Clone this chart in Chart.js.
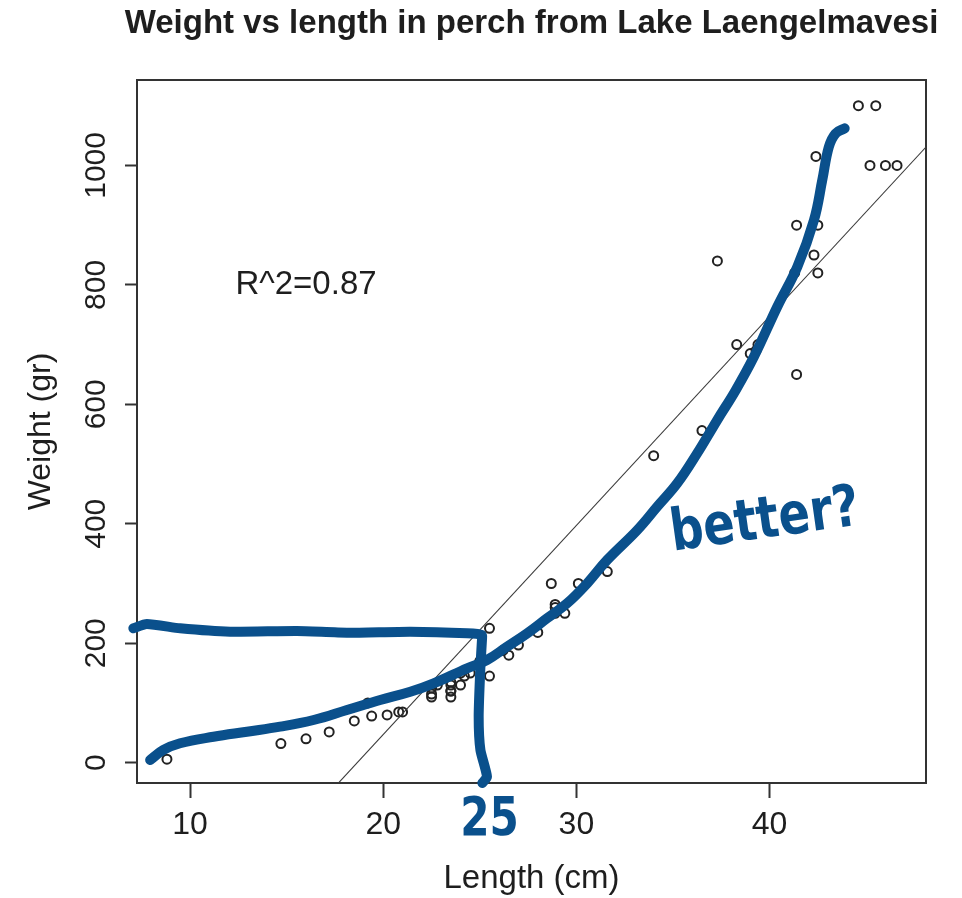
<!DOCTYPE html>
<html>
<head>
<meta charset="utf-8">
<script src="https://cdn.jsdelivr.net/npm/chart.js@4.4.1/dist/chart.umd.min.js"></script>
<style>
html,body{margin:0;padding:0;background:#fff;}
#wrap{width:962px;height:898px;}
</style>
</head>
<body>
<div id="wrap"><canvas id="c" width="962" height="898"></canvas></div>
<script>
// ---- data (perch, Lake Laengelmavesi) ----
const lengthCm = [8.8,14.7,16.0,17.2,18.5,19.2,19.4,20.2,20.8,21.0,22.5,22.5,22.5,22.8,23.5,23.5,23.5,23.5,23.5,24.0,24.0,24.2,24.5,25.0,25.5,25.5,26.2,26.5,27.0,28.0,28.7,28.9,28.9,28.9,29.4,30.1,31.6,34.0,36.5,37.3,39.0,38.3,39.4,39.3,41.4,41.4,41.3,42.3,42.5,42.4,42.5,44.6,45.2,45.5,46.0,46.6];
const weightGr = [5.9,32,40,51.5,70,100,78,80,85,85,110,115,125,130,120,120,130,135,110,130,150,145,150,170,225,145,188,180,197,218,300,260,265,250,250,300,320,514,556,840,685,700,700,690,900,650,820,850,900,1015,820,1100,1000,1100,1000,1000];

const xTicks = [10,20,30,40];
const yTicks = [0,200,400,600,800,1000];

// hand-drawn blue "better?" curve
const curveLength = [7.93,8.62,9.48,11.21,12.94,14.66,16.39,18.12,19.84,21.40,22.61,24.34,25.37,26.41,27.45,28.48,29.52,30.56,31.59,33.15,34.18,35.22,36.25,37.29,38.24,39.19,40.40,41.44,42.30,42.73,43.07,43.42,43.89];
const curveWeight = [4.5,21.3,32.5,43.5,51.9,60.3,71.5,88.2,105,118.8,132.9,158,171.9,194.2,216.6,241.7,266.8,300.3,339.3,389.5,428.5,467.7,517.9,573.7,623.3,679.6,763.3,830.3,908.4,975.4,1031,1053.6,1062];

// hand-drawn blue reading guide (~200 g -> 25 cm)
const guideLength = [7.06,7.76,9.48,12.07,15.53,18.12,21.40,24.34,25.11,25.11,25.03,24.94,25.03,25.37,25.13];
const guideWeight = [225,232.2,225,219.3,220.5,217.6,219.3,216.6,213.8,205.4,160.7,77,21.3,-23.4,-34];

const titleText = 'Weight vs length in perch from Lake Laengelmavesi';
const xTitle = 'Length (cm)';
const yTitle = 'Weight (gr)';
const r2Label = 'R^2=0.87';
const noteBetter = 'better?';
const note25 = '25';

// ---- least-squares line from the data ----
const n = lengthCm.length;
const mx = lengthCm.reduce((a,b)=>a+b,0)/n;
const my = weightGr.reduce((a,b)=>a+b,0)/n;
let sxy = 0, sxx = 0;
for (let i=0;i<n;i++){ sxy += (lengthCm[i]-mx)*(weightGr[i]-my); sxx += (lengthCm[i]-mx)**2; }
const slope = sxy/sxx;
const intercept = my - slope*mx;

const X_MIN = 7.25, X_MAX = 48.1, Y_MIN = -34, Y_MAX = 1143;
const FONT = '"Liberation Sans", Arial, Helvetica, sans-serif';
const INK = '#1e1e1e';
const BLUE = '#0a508c';

function toXY(xs, ys){ return xs.map((x,i)=>({x:x, y:ys[i]})); }

function drawText(ctx, s, x, y, font, color, align, baseline, rot, sx){
  ctx.save();
  ctx.translate(x, y);
  if (rot) ctx.rotate(rot);
  if (sx) ctx.scale(sx, 1);
  ctx.font = font;
  ctx.fillStyle = color;
  ctx.textAlign = align;
  ctx.textBaseline = baseline;
  ctx.fillText(s, 0, 0);
  ctx.restore();
}

const framePlugin = {
  id: 'frame',
  beforeDatasetsDraw(chart){
    const {ctx, chartArea:a} = chart;
    ctx.save();
    ctx.strokeStyle = '#333';
    ctx.lineWidth = 2;
    ctx.strokeRect(a.left, a.top, a.right-a.left, a.bottom-a.top);
    ctx.restore();
  },
  afterDraw(chart){
    const {ctx, chartArea:a, scales} = chart;
    const xs = scales.x, ys = scales.y;
    const cx = (a.left + a.right)/2;
    const cy = (a.top + a.bottom)/2;
    // title
    drawText(ctx, titleText, cx, 33, 'bold 33px '+FONT, INK, 'center', 'alphabetic');
    // axis titles
    drawText(ctx, xTitle, cx, 888, '33px '+FONT, INK, 'center', 'alphabetic');
    drawText(ctx, yTitle, 50, cy, '32px '+FONT, INK, 'center', 'alphabetic', -Math.PI/2);
    // y tick labels (rotated like R)
    ys.ticks.forEach(t=>{
      drawText(ctx, String(t.value), 105, ys.getPixelForValue(t.value), '30px '+FONT, INK, 'center', 'alphabetic', -Math.PI/2);
    });
    // R^2 label
    drawText(ctx, r2Label, xs.getPixelForValue(16), ys.getPixelForValue(800), '33px '+FONT, INK, 'center', 'middle');
    // blue handwritten notes
    drawText(ctx, noteBetter, xs.getPixelForValue(35.0), ys.getPixelForValue(355), 'bold 58px "DejaVu Sans", sans-serif', BLUE, 'left', 'alphabetic', -8*Math.PI/180, 0.8);
    drawText(ctx, note25, xs.getPixelForValue(25.5), ys.getPixelForValue(-121), 'bold 54px "DejaVu Sans", sans-serif', BLUE, 'center', 'alphabetic', 0, 0.78);
  }
};

new Chart(document.getElementById('c'), {
  type: 'scatter',
  data: {
    datasets: [
      {
        label: 'better?',
        data: toXY(curveLength, curveWeight),
        showLine: true,
        tension: 0.4,
        borderColor: BLUE,
        borderWidth: 10,
        borderCapStyle: 'round',
        borderJoinStyle: 'round',
        pointRadius: 0,
        clip: false,
        order: 0
      },
      {
        label: 'guide',
        data: toXY(guideLength, guideWeight),
        showLine: true,
        tension: 0.2,
        borderColor: BLUE,
        borderWidth: 10,
        borderCapStyle: 'round',
        borderJoinStyle: 'round',
        pointRadius: 0,
        clip: false,
        order: 0
      },
      {
        label: 'fit',
        data: [{x:X_MIN, y:intercept+slope*X_MIN},{x:X_MAX, y:intercept+slope*X_MAX}],
        showLine: true,
        borderColor: '#3a3a3a',
        borderWidth: 1.1,
        pointRadius: 0,
        order: 1
      },
      {
        label: 'perch',
        data: toXY(lengthCm, weightGr),
        pointStyle: 'circle',
        pointRadius: 4.5,
        pointBorderWidth: 2,
        borderColor: '#222',
        backgroundColor: 'rgba(0,0,0,0)',
        order: 2
      }
    ]
  },
  options: {
    responsive: false,
    devicePixelRatio: 1,
    animation: false,
    layout: { padding: { top: 80, right: 36, bottom: 0, left: 0 } },
    plugins: { legend: { display: false }, tooltip: { enabled: false }, title: { display: false } },
    scales: {
      x: {
        type: 'linear',
        min: X_MIN, max: X_MAX,
        afterBuildTicks: s => { s.ticks = xTicks.map(v=>({value:v})); },
        afterFit: s => { s.height = 115; },
        border: { display: false },
        grid: { drawOnChartArea: false, drawTicks: true, tickLength: 15, tickWidth: 2, tickColor: '#333' },
        ticks: { color: INK, font: { family: FONT, size: 32 }, padding: 8, maxRotation: 0, autoSkip: false }
      },
      y: {
        type: 'linear',
        min: Y_MIN, max: Y_MAX,
        afterBuildTicks: s => { s.ticks = yTicks.map(v=>({value:v})); },
        afterFit: s => { s.width = 137; },
        border: { display: false },
        grid: { drawOnChartArea: false, drawTicks: true, tickLength: 12, tickWidth: 2, tickColor: '#333' },
        ticks: { display: false }
      }
    }
  },
  plugins: [framePlugin]
});
</script>
</body>
</html>
